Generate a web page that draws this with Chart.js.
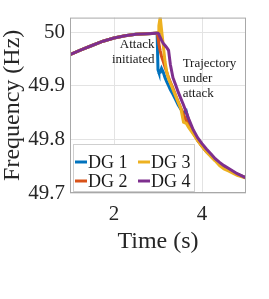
<!DOCTYPE html>
<html>
<head>
<meta charset="utf-8">
<script src="https://cdn.jsdelivr.net/npm/chart.js@4"></script>
<style>
  body { margin: 0; background: #fff; }
</style>
</head>
<body>
<canvas id="myChart" width="269" height="299"></canvas>
<script>
// time (s)
const times = [1, 1.25, 1.5, 1.75, 2, 2.25, 2.5, 2.75, 2.98, 3.0, 3.02, 3.05, 3.08, 3.12, 3.16, 3.2, 3.24, 3.28, 3.34, 3.4, 3.46, 3.52, 3.58, 3.64, 3.7, 3.8, 3.9, 4.0, 4.1, 4.2, 4.3, 4.4, 4.5, 4.6, 4.8, 5.0];

// frequency (Hz)
const dg1 = [49.958, 49.967, 49.975, 49.983, 49.989, 49.993, 49.996, 49.997, 49.998, 49.93, 49.925, 49.925, 49.932, 49.925, 49.915, 49.907, 49.9, 49.893, 49.884, 49.874, 49.864, 49.856, 49.848, 49.853, 49.832, 49.813, 49.799, 49.788, 49.778, 49.769, 49.761, 49.755, 49.749, 49.744, 49.735, 49.728];
const dg2 = [49.958, 49.967, 49.975, 49.983, 49.989, 49.993, 49.996, 49.997, 49.998, 49.99, 49.978, 49.965, 49.955, 49.945, 49.935, 49.925, 49.915, 49.907, 49.895, 49.882, 49.87, 49.858, 49.846, 49.835, 49.826, 49.812, 49.798, 49.787, 49.777, 49.769, 49.761, 49.755, 49.749, 49.744, 49.735, 49.728];
const dg3 = [49.958, 49.967, 49.975, 49.983, 49.989, 49.993, 49.996, 49.997, 49.998, 49.998, 50.012, 50.028, 50.005, 49.975, 49.945, 49.925, 49.913, 49.905, 49.893, 49.881, 49.869, 49.857, 49.832, 49.83, 49.822, 49.81, 49.798, 49.787, 49.777, 49.768, 49.76, 49.751, 49.745, 49.741, 49.733, 49.728];
const dg4 = [49.958, 49.967, 49.975, 49.983, 49.989, 49.993, 49.996, 49.997, 49.998, 49.998, 49.996, 49.99, 49.985, 49.979, 49.975, 49.971, 49.966, 49.94, 49.915, 49.902, 49.888, 49.876, 49.864, 49.851, 49.838, 49.818, 49.803, 49.792, 49.782, 49.773, 49.764, 49.757, 49.751, 49.746, 49.736, 49.728];

const seriesLabels = ["DG 1", "DG 2", "DG 3", "DG 4"];
const seriesColors = ["#0072BD", "#D95319", "#EDB120", "#7E2F8E"];
const xTicks = [2, 4];
const yTicks = [49.7, 49.8, 49.9, 50];

// text notes, anchored in data units
const notes = [
  { lines: ["Attack", "initiated"], x: 2.92, y: 49.977, align: "right" },
  { lines: ["Trajectory", "under", "attack"], x: 3.56, y: 49.942, align: "left" },
];

const serif = "'Liberation Serif', 'DejaVu Serif', serif";
const allSeries = [dg1, dg2, dg3, dg4];

// box round the axes + notes + legend inside the plot
const extras = {
  id: "extras",
  afterDatasetsDraw(chart) {
    const { ctx, chartArea: a, scales } = chart;
    ctx.save();
    ctx.strokeStyle = "#a8a8a8";
    ctx.lineWidth = 1;
    ctx.strokeRect(a.left + 0.5, a.top + 0.5, a.right - a.left - 1, a.bottom - a.top - 1);

    ctx.fillStyle = "#1a1a1a";
    ctx.font = "13px " + serif;
    ctx.textBaseline = "middle";
    for (const n of notes) {
      const x = scales.x.getPixelForValue(n.x);
      const y = scales.y.getPixelForValue(n.y);
      ctx.textAlign = n.align;
      n.lines.forEach((t, i) => ctx.fillText(t, x, y + i * 15));
    }

    // legend (2 columns, column-major like MATLAB)
    const lx = a.left + 3, ly = a.bottom - 49, lw = 122, lh = 48;
    ctx.fillStyle = "#fff";
    ctx.fillRect(lx, ly, lw, lh);
    ctx.strokeStyle = "#cfcfcf";
    ctx.strokeRect(lx + 0.5, ly + 0.5, lw - 1, lh - 1);
    ctx.font = "18px " + serif;
    ctx.textAlign = "left";
    for (let i = 0; i < 4; i++) {
      const col = Math.floor(i / 2), row = i % 2;
      const x0 = lx + 2 + col * 63;
      const y0 = ly + 18 + row * 19;
      ctx.strokeStyle = seriesColors[i];
      ctx.lineWidth = 3;
      ctx.beginPath();
      ctx.moveTo(x0, y0);
      ctx.lineTo(x0 + 12, y0);
      ctx.stroke();
      ctx.fillStyle = "#1a1a1a";
      ctx.fillText(seriesLabels[i], x0 + 13, y0 + 1);
    }
    ctx.restore();
  },
};

const ctx = document.getElementById("myChart").getContext("2d");
const myChart = new Chart(ctx, {
  type: "line",
  data: {
    labels: times,
    datasets: allSeries.map((vals, i) => ({
      label: seriesLabels[i],
      data: vals.map((v, j) => ({ x: times[j], y: v })),
      borderColor: seriesColors[i],
      borderWidth: 3,
      pointRadius: 0,
      tension: 0,
      fill: false,
      order: 4 - i,
    })),
  },
  options: {
    responsive: false,
    animation: false,
    devicePixelRatio: 1,
    layout: { padding: { left: 0, top: 14, right: 23, bottom: 0 } },
    plugins: { legend: { display: false }, tooltip: { enabled: false } },
    scales: {
      x: {
        type: "linear",
        min: 1,
        max: 5,
        afterBuildTicks: (s) => { s.ticks = xTicks.map((v) => ({ value: v })); },
        afterFit: (s) => { s.height = 106; },
        ticks: { color: "#262626", font: { family: serif, size: 21 }, padding: 9, maxRotation: 0 },
        grid: { color: "#e3e3e3", drawTicks: false },
        border: { display: false },
        title: { display: true, text: "Time (s)", color: "#262626", font: { family: serif, size: 24 }, padding: { top: 0, bottom: 43 } },
      },
      y: {
        type: "linear",
        min: 49.7,
        max: 50.027,
        afterBuildTicks: (s) => { s.ticks = yTicks.map((v) => ({ value: v })); },
        afterFit: (s) => { s.width = 70; },
        ticks: { color: "#262626", font: { family: serif, size: 21 }, padding: 5, callback: (v) => String(v) },
        grid: { color: "#e3e3e3", drawTicks: false },
        border: { display: false },
        title: { display: true, text: "Frequency (Hz)", color: "#262626", font: { family: serif, size: 24, lineHeight: 1.05 }, padding: { top: 0, bottom: 0 } },
      },
    },
  },
  plugins: [extras],
});
</script>
</body>
</html>
